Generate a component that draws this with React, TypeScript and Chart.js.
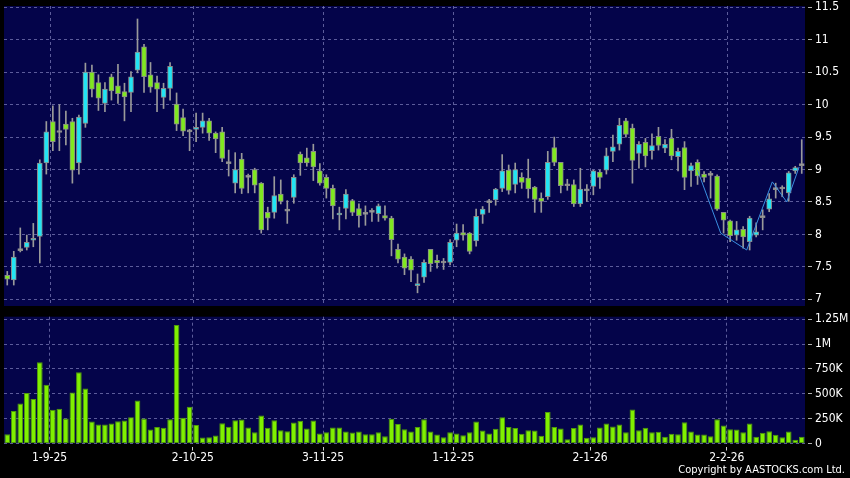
import React, { useEffect, useRef } from 'react';
import { Chart, registerables } from 'chart.js';

Chart.register(...registerables);

// ---------- data ----------
const opens = [7.37, 7.30, 7.75, 7.80, 7.91, 7.97, 9.10, 9.74, 9.57, 9.70, 9.74, 9.10, 9.71, 10.50, 10.34, 10.02, 10.43, 10.29, 10.20, 10.19,
  10.53, 10.89, 10.46, 10.34, 10.11, 10.25, 10.01, 9.80, 9.58, 9.62, 9.65, 9.75, 9.56, 9.58, 9.09, 8.79, 9.16, 8.88, 9.00, 8.79,
  8.34, 8.34, 8.62, 8.36, 8.57, 9.24, 9.18, 9.28, 8.98, 8.88, 8.71, 8.30, 8.40, 8.52, 8.40, 8.31, 8.34, 8.32, 8.29, 8.25,
  7.77, 7.65, 7.62, 7.21, 7.34, 7.77, 7.60, 7.56, 7.57, 7.91, 8.03, 8.02, 7.90, 8.31, 8.49, 8.53, 8.71, 8.99, 8.77, 8.88,
  8.87, 8.73, 8.56, 8.58, 9.34, 9.11, 8.75, 8.77, 8.47, 8.67, 8.74, 8.96, 8.99, 9.28, 9.39, 9.75, 9.64, 9.25, 9.42, 9.29,
  9.51, 9.33, 9.48, 9.20, 9.34, 8.98, 9.11, 8.93, 8.91, 8.90, 8.34, 8.21, 7.99, 8.08, 7.89, 7.99, 8.26, 8.39, 8.69, 8.70,
  8.64, 8.98, 9.06];
const highs = [7.43, 7.74, 8.10, 7.99, 8.17, 9.15, 9.74, 9.98, 10.00, 9.90, 9.79, 9.84, 10.64, 10.61, 10.46, 10.34, 10.47, 10.62, 10.33, 10.51,
  11.32, 10.93, 10.65, 10.44, 10.33, 10.65, 10.18, 9.93, 9.62, 9.87, 9.87, 9.79, 9.58, 9.65, 9.30, 9.26, 9.25, 8.93, 9.02, 8.80,
  8.42, 8.89, 8.84, 8.52, 8.92, 9.27, 9.33, 9.39, 9.09, 8.92, 8.76, 8.42, 8.69, 8.54, 8.47, 8.44, 8.40, 8.47, 8.44, 8.28,
  7.85, 7.70, 7.66, 7.39, 7.61, 7.77, 7.68, 7.63, 7.92, 8.16, 8.15, 8.03, 8.39, 8.43, 8.54, 8.71, 9.23, 9.07, 9.10, 8.95,
  9.16, 8.74, 8.64, 9.28, 9.50, 9.11, 8.85, 8.84, 9.02, 8.77, 8.99, 8.99, 9.33, 9.53, 9.79, 9.79, 9.70, 9.43, 9.48, 9.55,
  9.65, 9.46, 9.62, 9.33, 9.43, 9.10, 9.15, 8.97, 8.97, 8.92, 8.34, 8.22, 8.20, 8.12, 8.28, 8.18, 8.38, 8.63, 8.79, 8.75,
  8.97, 9.05, 9.46];
const lows = [7.22, 7.22, 7.73, 7.76, 7.81, 7.56, 8.93, 9.29, 9.29, 9.38, 8.79, 8.93, 9.65, 10.12, 9.91, 9.89, 10.07, 10.02, 9.75, 9.89,
  10.49, 10.19, 10.19, 9.89, 9.94, 10.07, 9.60, 9.52, 9.29, 9.43, 9.56, 9.45, 9.26, 9.12, 8.90, 8.64, 8.63, 8.64, 8.64, 8.02,
  8.07, 8.25, 8.47, 8.17, 8.48, 8.91, 9.05, 8.83, 8.76, 8.56, 8.24, 8.07, 8.24, 8.29, 8.11, 8.14, 8.20, 8.20, 8.22, 7.67,
  7.56, 7.38, 7.27, 7.10, 7.26, 7.43, 7.48, 7.46, 7.53, 7.81, 7.91, 7.70, 7.82, 8.17, 8.34, 8.45, 8.66, 8.62, 8.64, 8.71,
  8.56, 8.34, 8.34, 8.54, 9.06, 8.64, 8.68, 8.43, 8.43, 8.51, 8.61, 8.71, 8.93, 9.12, 9.30, 9.50, 8.79, 9.02, 9.04, 9.16,
  9.30, 9.26, 9.15, 8.98, 8.69, 8.74, 8.77, 8.81, 8.56, 8.37, 8.02, 7.89, 7.91, 7.79, 7.76, 7.96, 8.07, 8.35, 8.56, 8.58,
  8.51, 8.94, 8.94];
const closes = [7.31, 7.65, 7.75, 7.88, 7.94, 9.10, 9.58, 9.43, 9.57, 9.62, 8.99, 9.81, 10.50, 10.24, 10.10, 10.24, 10.21, 10.17, 10.12, 10.43,
  10.81, 10.43, 10.27, 10.24, 10.25, 10.59, 9.70, 9.59, 9.58, 9.65, 9.75, 9.56, 9.47, 9.17, 9.09, 9.00, 8.71, 8.88, 8.76, 8.07,
  8.25, 8.60, 8.51, 8.36, 8.88, 9.10, 9.10, 9.04, 8.79, 8.71, 8.44, 8.32, 8.62, 8.34, 8.29, 8.31, 8.34, 8.44, 8.25, 7.92,
  7.62, 7.48, 7.45, 7.23, 7.57, 7.55, 7.56, 7.56, 7.88, 8.02, 7.99, 7.74, 8.28, 8.39, 8.49, 8.70, 8.98, 8.68, 9.00, 8.80,
  8.70, 8.54, 8.51, 9.11, 9.11, 8.75, 8.75, 8.47, 8.70, 8.67, 8.98, 8.88, 9.21, 9.35, 9.68, 9.54, 9.14, 9.39, 9.21, 9.37,
  9.37, 9.39, 9.21, 9.28, 8.88, 9.06, 8.90, 8.88, 8.91, 8.39, 8.22, 7.98, 8.07, 7.96, 8.25, 8.04, 8.26, 8.55, 8.69, 8.70,
  8.95, 9.03, 9.06];
// volume in thousands of shares
const volumesK = [94, 326, 403, 507, 447, 817, 591, 339, 349, 252, 514, 716, 554, 222, 192, 192, 202, 225, 232, 265,
  433, 252, 141, 165, 158, 245, 1193, 259, 370, 185, 60, 64, 81, 205, 168, 235, 242, 161, 114, 282,
  158, 235, 134, 124, 212, 228, 151, 232, 101, 114, 161, 161, 121, 111, 121, 94, 94, 114, 74, 249,
  195, 144, 121, 165, 245, 121, 91, 64, 114, 101, 84, 114, 222, 131, 101, 148, 265, 165, 155, 97,
  134, 131, 77, 316, 165, 151, 44, 155, 192, 57, 64, 161, 202, 171, 192, 114, 343, 134, 158, 114,
  118, 67, 97, 94, 215, 121, 91, 91, 74, 245, 181, 144, 141, 114, 202, 67, 108, 124, 87, 64,
  121, 37, 67];
const xTickIndex = [6, 28, 48, 68, 89, 110];
const xTickLabels = ['1-9-25', '2-10-25', '3-11-25', '1-12-25', '2-1-26', '2-2-26'];
const priceTicks = [7, 7.5, 8, 8.5, 9, 9.5, 10, 10.5, 11, 11.5];
const volumeTicksK = [0, 250, 500, 750, 1000, 1250];
// drawn pattern line (bar index, price)
const patternX = [106.0, 109.56, 113.55, 117.48, 119.7, 121.6];
const patternY = [8.99, 8.02, 7.76, 8.81, 8.50, 9.04];

// ---------- styles ----------
const FONT = "'DejaVu Sans Condensed', 'DejaVu Sans', sans-serif";
const NAVY = '#04044a';
const GRID = 'rgba(130,130,190,0.7)';
const CYAN = '#22e4f4';
const GREEN = '#80e820';
const DOJI = '#a0a0a0';
const LIME = '#80f000';

const labels = opens.map((_, i) => String(i));

const plotBg = {
  id: 'plotBg',
  beforeDraw(chart: any) {
    const { ctx, chartArea: a } = chart;
    ctx.save();
    ctx.fillStyle = NAVY;
    ctx.fillRect(a.left, a.top, a.right - a.left, a.bottom - a.top);
    ctx.restore();
  },
};

// vertical dashed grid lines for the price panel, placed through the x scale
const vGrid = {
  id: 'vGrid',
  beforeDatasetsDraw(chart: any) {
    const { ctx, chartArea: a } = chart;
    const xs = chart.scales.x;
    ctx.save();
    ctx.strokeStyle = GRID;
    ctx.lineWidth = 1;
    ctx.setLineDash([3, 3]);
    xTickIndex.forEach((i) => {
      const px = Math.round(xs.getPixelForValue(i + 0.5)) + 0.5;
      ctx.beginPath();
      ctx.moveTo(px, a.top);
      ctx.lineTo(px, a.bottom);
      ctx.stroke();
    });
    ctx.restore();
  },
};

const bodyColor = (c: any) => {
  const i = c.dataIndex;
  if (i == null) return CYAN;
  if (closes[i] > opens[i]) return CYAN;
  if (closes[i] < opens[i]) return GREEN;
  return DOJI;
};

const yAxisCommon = (ticksArr: number[], cb: (v: number) => string) => ({
  position: 'right' as const,
  afterBuildTicks: (s: any) => { s.ticks = ticksArr.map((v) => ({ value: v })); },
  afterFit: (s: any) => { s.width = 45; s.paddingTop = 0; s.paddingBottom = 0; },
  grid: { color: GRID, tickLength: 7, tickColor: '#b0b0b0', tickBorderDash: [0, 3, 4, 30] },
  border: { display: false, dash: [3, 3] },
  ticks: { color: '#ffffff', font: { family: FONT, size: 12 }, padding: 3, callback: (v: any) => cb(Number(v)) },
});

export default function App() {
  const topRef = useRef<HTMLCanvasElement>(null);
  const botRef = useRef<HTMLCanvasElement>(null);

  useEffect(() => {
    const n = opens.length;
    const top = new Chart(topRef.current as HTMLCanvasElement, {
      type: 'bar',
      data: {
        labels,
        datasets: [
          {
            type: 'line',
            data: patternX.map((x, i) => ({ x, y: patternY[i] })),
            xAxisID: 'xl',
            yAxisID: 'y',
            borderColor: '#3a8fe0',
            borderWidth: 1,
            pointRadius: 0,
            order: 0,
          } as any,
          {
            type: 'bar',
            data: opens.map((o, i) => [o, closes[i]]),
            backgroundColor: bodyColor,
            borderColor: '#8a8a8a',
            borderWidth: 1,
            borderSkipped: false,
            barThickness: 5,
            minBarLength: 2,
            grouped: false,
            order: 1,
          } as any,
          {
            type: 'bar',
            data: lows.map((l, i) => [l, highs[i]]),
            backgroundColor: '#9a9a9a',
            borderWidth: 0,
            barThickness: 1,
            grouped: false,
            order: 2,
          } as any,
        ],
      },
      options: {
        animation: false,
        responsive: false,
        maintainAspectRatio: false,
        events: [],
        layout: { padding: { left: 4, top: 6, right: 0, bottom: 4 } },
        plugins: { legend: { display: false }, tooltip: { enabled: false } },
        scales: {
          x: {
            type: 'category',
            offset: true,
            grid: { display: false, offset: false, drawTicks: false },
            border: { display: false },
            ticks: { display: false, autoSkip: false },
            afterFit: (s: any) => { s.height = 0; s.paddingLeft = 0; s.paddingRight = 0; },
          },
          xl: { type: 'linear', display: false, offset: false, bounds: 'data', min: -0.5, max: n - 0.5, grid: { offset: false } },
          y: { ...yAxisCommon(priceTicks, (v) => String(v)), min: 6.897, max: 11.52 },
        } as any,
      },
      plugins: [plotBg, vGrid],
    });

    const bot = new Chart(botRef.current as HTMLCanvasElement, {
      type: 'bar',
      data: {
        labels,
        datasets: [
          {
            data: volumesK,
            backgroundColor: LIME,
            borderColor: '#4f9a0a',
            borderWidth: 1,
            borderSkipped: false,
            categoryPercentage: 1,
            barPercentage: 0.87,
          } as any,
        ],
      },
      options: {
        animation: false,
        responsive: false,
        maintainAspectRatio: false,
        events: [],
        layout: { padding: { left: 4, top: 4.7, right: 0, bottom: 0 } },
        plugins: { legend: { display: false }, tooltip: { enabled: false } },
        scales: {
          x: {
            type: 'category',
            offset: true,
            grid: { offset: false, color: GRID, drawTicks: true, tickLength: 7, tickColor: '#d0d0d0', tickBorderDash: [0, 3, 4, 30] },
            border: { display: false, dash: [3, 3] },
            ticks: {
              autoSkip: false,
              maxRotation: 0,
              padding: 0,
              color: '#ffffff',
              font: { family: FONT, size: 12 },
              callback: (v: any) => xTickLabels[xTickIndex.indexOf(Math.round(Number(v) - 0.5))],
            },
            afterBuildTicks: (s: any) => { s.ticks = xTickIndex.map((i) => ({ value: i + 0.5 })); },
            afterFit: (s: any) => { s.height = 34.5; s.paddingLeft = 0; s.paddingRight = 0; },
          },
          y: {
            ...yAxisCommon(volumeTicksK, (v) => (v >= 1000 ? `${v / 1000}M` : v === 0 ? '0' : `${v}K`)),
            min: 0,
            max: 1276,
          },
        } as any,
      },
      plugins: [plotBg],
    });

    return () => { top.destroy(); bot.destroy(); };
  }, []);

  return (
    <div style={{ position: 'absolute', left: 0, top: 0, width: 850, height: 478, background: '#000', overflow: 'hidden' }}>
      <canvas ref={topRef} width={850} height={310} style={{ position: 'absolute', left: 0, top: 0, width: 850, height: 310 }} />
      <canvas ref={botRef} width={850} height={166} style={{ position: 'absolute', left: 0, top: 312, width: 850, height: 166 }} />
      <div style={{ position: 'absolute', right: 5, top: 463, color: '#fff', fontFamily: FONT, fontSize: 11, lineHeight: '14px', whiteSpace: 'nowrap' }}>
        Copyright by AASTOCKS.com Ltd.
      </div>
    </div>
  );
}
